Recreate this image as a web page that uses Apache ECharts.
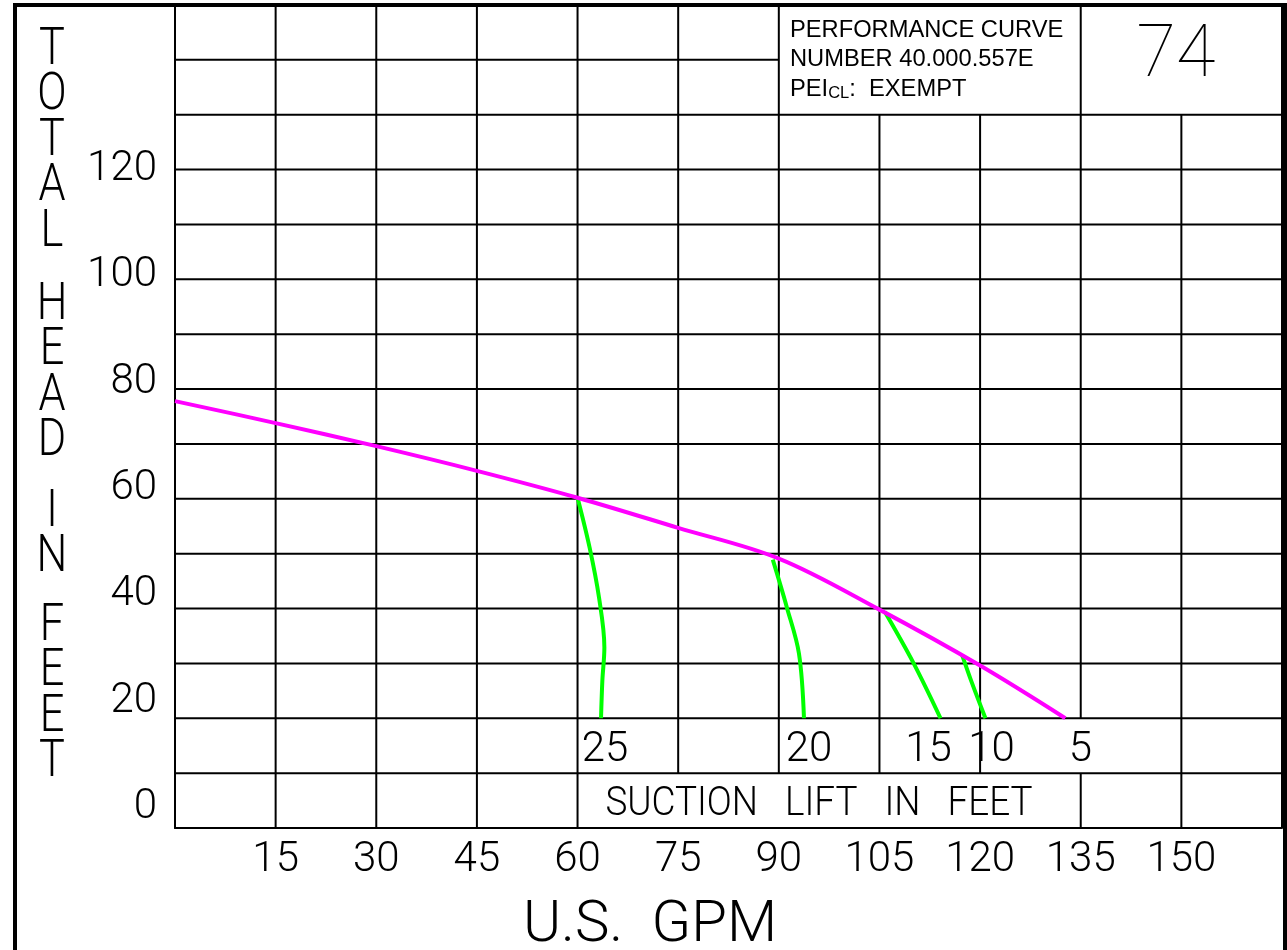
<!DOCTYPE html>
<html>
<head>
<meta charset="utf-8">
<script src="https://cdn.jsdelivr.net/npm/echarts@6/dist/echarts.min.js"></script>
<style>
html,body{margin:0;padding:0;background:#fff;}
#chart{width:1287px;height:950px;}
</style>
</head>
<body>
<div id="chart"></div>
<script>
// ---------- data ----------
const xTickLabels = [15, 30, 45, 60, 75, 90, 105, 120, 135, 150];
const yTickLabels = [0, 20, 40, 60, 80, 100, 120];
const xGridValues = [15, 30, 45, 60, 75, 90, 105, 120, 135, 150, 165];
const yGridValues = [10, 20, 30, 40, 50, 60, 70, 80, 90, 100, 110, 120, 130, 140, 150];

// head-capacity curve (magenta)
const headGpm = [0, 15, 30, 45, 60, 75, 90, 105, 120, 132.7];
const headFt  = [77.8, 73.8, 69.6, 65.1, 60.2, 54.7, 49.1, 39.8, 29.6, 20];

// suction lift curves (green)
const lift25Gpm = [60, 61.8, 63.2, 64.0, 63.7, 63.5];
const lift25Ft  = [60.2, 51.1, 42.0, 32.9, 26.9, 20];
const lift20Gpm = [89.1, 91.2, 93.0, 93.75];
const lift20Ft  = [48.9, 40.2, 31.8, 20];
const lift15Gpm = [105.8, 110.1, 114.1];
const lift15Ft  = [39.4, 30.0, 20];
const lift10Gpm = [117.3, 118.8, 120.8];
const lift10Ft  = [31.6, 26.4, 20];
const liftNames = ['25', '20', '15', '10', '5'];

const boxLines = ['PERFORMANCE CURVE', 'NUMBER 40.000.557E'];
const curveNumber = '74';

// ---------- helpers ----------
const FONT = 'Roboto';
function pairs(xs, ys) { return xs.map((x, i) => [x, ys[i]]); }

// grid segments (with gaps for the title box and the suction-lift box)
const gridSegs = [];
xGridValues.forEach(x => {
  let y1 = 150;
  if (x > 90 && x < 165 && x !== 135) y1 = 130;          // title box
  if (x > 60 && x < 135) { gridSegs.push([x, 10, x, y1]); return; } // suction box
  if (x === 135) { gridSegs.push([x, 0, x, 10]); gridSegs.push([x, 20, x, y1]); return; }
  gridSegs.push([x, 0, x, y1]);
});
yGridValues.forEach(y => {
  if (y === 140) gridSegs.push([0, y, 90, y]);
  else gridSegs.push([0, y, 165, y]);
});

function curveSeries(name, xs, ys, color) {
  return {
    name, type: 'line', data: pairs(xs, ys), smooth: 0.35, symbol: 'none', showSymbol: false,
    lineStyle: { color, width: 4 }, itemStyle: { color }, z: color === '#ff00ff' ? 5 : 4,
    silent: true, animation: false, clip: false
  };
}

// suction lift labels placed under each curve's lower end
const curveEnds = [
  [lift25Gpm, lift25Ft], [lift20Gpm, lift20Ft], [lift15Gpm, lift15Ft],
  [lift10Gpm, lift10Ft], [headGpm, headFt]
];
const labelOffsets = [[4, 0], [5, 0], [-12, 0], [6, 0], [15, 0]];
const labelData = curveEnds.map(([xs, ys], i) => ({
  value: [xs[xs.length - 1], ys[ys.length - 1]],
  label: { formatter: liftNames[i], offset: labelOffsets[i] }
}));

const chart = echarts.init(document.getElementById('chart'));
const option = {
  animation: false,
  backgroundColor: '#fff',
  grid: { left: 175, top: 5, right: 5, bottom: 122, containLabel: false },
  xAxis: {
    type: 'value', min: 0, max: 165, interval: 15,
    axisLine: { show: true, lineStyle: { color: '#000', width: 2 } },
    axisTick: { show: false },
    splitLine: { show: false },
    axisLabel: {
      customValues: xTickLabels, color: '#000', fontFamily: FONT, fontWeight: 300,
      fontSize: 42, margin: 11
    }
  },
  yAxis: [
    {
      type: 'value', min: 0, max: 150, interval: 10,
      axisLine: { show: true, lineStyle: { color: '#000', width: 2 } },
      axisTick: { show: false }, splitLine: { show: false }, axisLabel: { show: false }
    },
    {
      type: 'value', min: -3.8, max: 150.9, position: 'left',
      axisLine: { show: false }, axisTick: { show: false }, splitLine: { show: false },
      axisLabel: {
        customValues: yTickLabels, color: '#000', fontFamily: FONT, fontWeight: 300,
        fontSize: 42, margin: 18
      }
    }
  ],
  series: [
    {
      type: 'custom', coordinateSystem: 'cartesian2d', xAxisIndex: 0, yAxisIndex: 0,
      data: gridSegs, encode: { x: [0, 2], y: [1, 3] }, silent: true, clip: false, z: 2,
      renderItem: (params, api) => {
        const p1 = api.coord([api.value(0), api.value(1)]);
        const p2 = api.coord([api.value(2), api.value(3)]);
        return { type: 'line', shape: { x1: p1[0], y1: p1[1], x2: p2[0], y2: p2[1] },
                 style: { stroke: '#000', lineWidth: 2 } };
      }
    },
    curveSeries('lift25', lift25Gpm, lift25Ft, '#00ff00'),
    curveSeries('lift20', lift20Gpm, lift20Ft, '#00ff00'),
    curveSeries('lift15', lift15Gpm, lift15Ft, '#00ff00'),
    curveSeries('lift10', lift10Gpm, lift10Ft, '#00ff00'),
    curveSeries('head', headGpm, headFt, '#ff00ff'),
    {
      type: 'scatter', data: labelData, symbolSize: 0, silent: true, z: 6,
      itemStyle: { opacity: 1, color: '#000' },
      label: { show: true, position: 'bottom', distance: 11, color: '#000', opacity: 1,
               fontFamily: FONT, fontWeight: 300, fontSize: 42 }
    }
  ],
  graphic: [
    { type: 'rect', shape: { x: 15, y: 5, width: 1270, height: 1100 },
      style: { fill: 'none', stroke: '#000', lineWidth: 4 }, z: 100, silent: true },
    // y axis title, stacked letters
    ...[['TOTAL', 28], ['HEAD', 283], ['IN', 490], ['FEET', 604]].map(([w, y]) => ({
      type: 'text', x: 52, y: y, scaleX: 0.85, z: 50, silent: true,
      style: { text: w.split('').join('\n'), fontFamily: FONT, fontWeight: 300, fontSize: 51,
               lineHeight: 45.5, fill: '#000', align: 'center', verticalAlign: 'top' }
    })),
    { type: 'text', x: 650, y: 926, z: 50, silent: true,
      style: { text: 'U.S.  GPM', fontFamily: FONT, fontWeight: 300, fontSize: 58,
               fill: '#000', align: 'center', verticalAlign: 'middle' } },
    { type: 'text', x: 819, y: 805, scaleX: 0.9, z: 50, silent: true,
      style: { text: 'SUCTION   LIFT   IN   FEET', fontFamily: FONT, fontWeight: 300, fontSize: 41,
               fill: '#000', align: 'center', verticalAlign: 'middle' } },
    { type: 'text', x: 790, y: 31, scaleX: 1.03, z: 50, silent: true,
      style: { text: boxLines[0], fontFamily: 'Liberation Sans', fontSize: 23,
               fill: '#000', align: 'left', verticalAlign: 'middle' } },
    { type: 'text', x: 790, y: 60, scaleX: 1.03, z: 50, silent: true,
      style: { text: boxLines[1], fontFamily: 'Liberation Sans', fontSize: 23,
               fill: '#000', align: 'left', verticalAlign: 'middle' } },
    { type: 'text', x: 790, y: 90, scaleX: 1.03, z: 50, silent: true,
      style: { text: '{a|PEI}{b|CL}{a|:  EXEMPT}', fill: '#000', align: 'left', verticalAlign: 'middle',
               rich: { a: { fontFamily: 'Liberation Sans', fontSize: 23, fill: '#000' },
                       b: { fontFamily: 'Liberation Sans', fontSize: 16, fill: '#000', verticalAlign: 'bottom' } } } },
    { type: 'text', x: 1176, y: 58, z: 50, silent: true,
      style: { text: curveNumber, fontFamily: FONT, fontWeight: 100, fontSize: 72,
               fill: '#000', align: 'center', verticalAlign: 'middle' } }
  ]
};
chart.setOption(option);
</script>
</body>
</html>
